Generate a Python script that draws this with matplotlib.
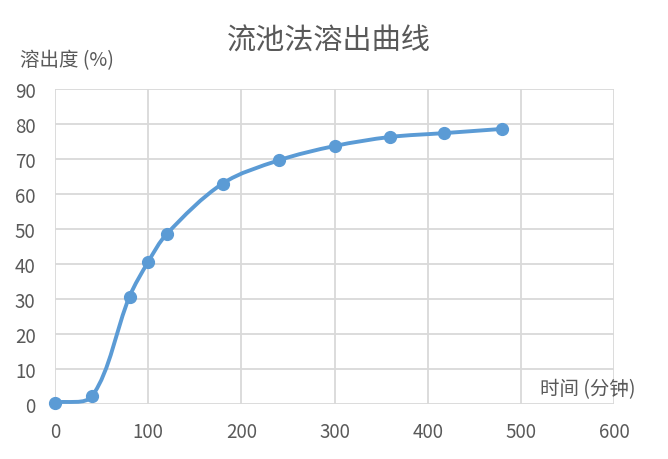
import numpy as np
import matplotlib
matplotlib.use("Agg")
import matplotlib.pyplot as plt
from matplotlib.path import Path
from matplotlib.patches import PathPatch

plt.rcParams['font.family'] = ['Noto Sans CJK SC', 'DejaVu Sans']

time_min = [0, 40, 80, 100, 120, 180, 240, 300, 360, 418, 480]
dissolution = [0.4, 2.3, 30.7, 40.6, 48.6, 63.0, 69.6, 73.7, 76.3, 77.4, 78.6]
x_ticks = [0, 100, 200, 300, 400, 500, 600]
y_ticks = [0, 10, 20, 30, 40, 50, 60, 70, 80, 90]
title = "流池法溶出曲线"
ylabel = "溶出度 (%)"
xlabel = "时间 (分钟)"

line_color = "#5B9BD5"
text_color = "#595959"
grid_color = "#D9D9D9"

fig = plt.figure(figsize=(6.68, 4.60), dpi=100)
ax = fig.add_axes([55/668, 1-405/460, (614-55)/668, (405-90)/460])

ax.set_xlim(0, 600)
ax.set_ylim(0, 90)
ax.set_xticks(x_ticks)
ax.set_yticks(y_ticks)
ax.grid(True, color=grid_color, linewidth=1.3)
ax.set_axisbelow(True)
for s in ax.spines.values():
    s.set_visible(False)
ax.tick_params(length=0, labelsize=13.5, colors=text_color)
ax.tick_params(axis='y', pad=14)
ax.tick_params(axis='x', pad=12)

# Excel-like smoothed line, computed in display space with chord-proportional tangents
x = np.array(time_min, float)
y = np.array(dissolution, float)
pts = ax.transData.transform(np.column_stack([x, y]))
n = len(pts)
verts_d = [pts[0]]
codes = [Path.MOVETO]
t = 1.0 / 3.0
for i in range(n - 1):
    p0 = pts[max(i-1, 0)]
    p1 = pts[i]
    p2 = pts[i+1]
    p3 = pts[min(i+2, n-1)]
    d01 = np.linalg.norm(p1 - p0)
    d12 = np.linalg.norm(p2 - p1)
    d23 = np.linalg.norm(p3 - p2)
    f1 = d12 / (d01 + d12) if (d01 + d12) > 0 else 0.5
    f2 = d12 / (d12 + d23) if (d12 + d23) > 0 else 0.5
    c1 = p1 + (p2 - p0) * t * f1 if i > 0 else p1 + (p2 - p1) / 3.0
    c2 = p2 - (p3 - p1) * t * f2 if i < n - 2 else p2 - (p2 - p1) / 3.0
    verts_d += [c1, c2, p2]
    codes += [Path.CURVE4, Path.CURVE4, Path.CURVE4]
verts = ax.transData.inverted().transform(np.array(verts_d))
patch = PathPatch(Path(verts, codes), facecolor='none', edgecolor=line_color,
                  linewidth=2.8, capstyle='round', joinstyle='round', zorder=3)
ax.add_patch(patch)
ax.plot(x, y, linestyle='none', marker='o', markersize=8.5, color=line_color,
        zorder=4, clip_on=False)

fig.text(329/668, 1-42/460, title, ha='center', va='center', fontsize=21, color=text_color)
fig.text(20/668, 1-61/460, ylabel, ha='left', va='center', fontsize=14, color=text_color)
fig.text(636/668, 1-390/460, xlabel, ha='right', va='center', fontsize=14, color=text_color)

fig.savefig("out.png", dpi=100, facecolor='white')
